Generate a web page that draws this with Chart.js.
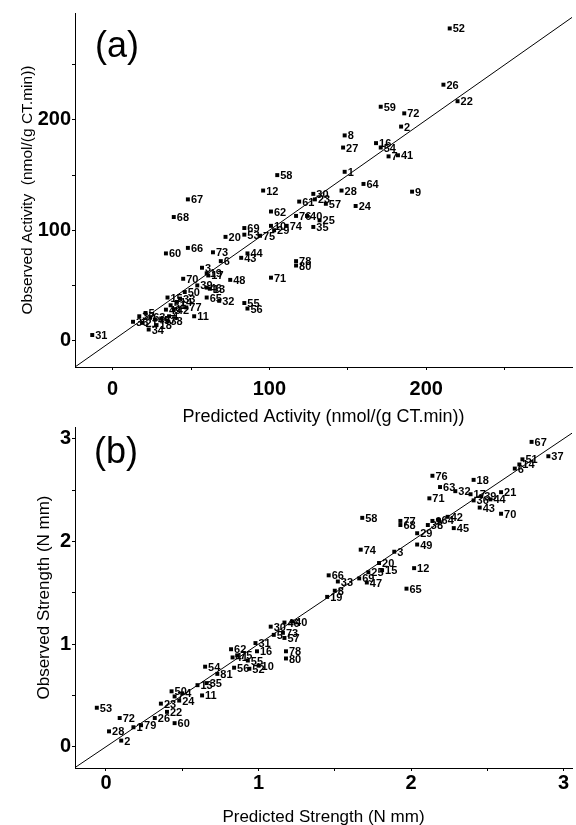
<!DOCTYPE html>
<html>
<head>
<meta charset="utf-8">
<script src="https://cdn.jsdelivr.net/npm/chart.js@4.4.0/dist/chart.umd.min.js"></script>
<style>
  html, body { margin: 0; padding: 0; background: #fff; }
  body { width: 576px; height: 825px; position: relative; overflow: hidden; }
  canvas { position: absolute; left: 0; }
  #chartA { top: 0; }
  #chartB { top: 400px; }
</style>
</head>
<body>
<canvas id="chartA" width="576" height="440"></canvas>
<canvas id="chartB" width="576" height="440"></canvas>
<script>
// ---- panel (a): enzyme activity, nmol/(g CT.min) ----
const activityIds = [1, 2, 3, 4, 5, 6, 7, 8, 9, 10, 11, 12, 13, 14, 15, 16, 17, 18, 19, 20,
  21, 22, 23, 24, 25, 26, 27, 28, 29, 30, 31, 32, 33, 34, 35, 36, 37, 38, 39, 40,
  41, 42, 43, 44, 45, 46, 47, 48, 49, 50, 51, 52, 53, 54, 55, 56, 57, 58, 59, 60,
  61, 62, 63, 64, 65, 66, 67, 68, 69, 70, 71, 72, 73, 74, 75, 76, 77, 78, 80];
const activityPredicted = [148, 184, 57, 36, 21, 69, 176, 148, 191, 101, 52, 96, 62, 41, 35, 168, 61, 28, 60, 72,
  19, 220, 129, 155, 132, 211, 147, 146, 103, 128, -13, 68, 43, 23, 128, 13, 17, 35, 54, 124,
  182, 39, 82, 86, 27, 60, 31, 75, 34, 46, 37, 215, 84, 171, 84, 86, 136, 105, 171, 34,
  119, 101, 24, 160, 60, 48, 48, 39, 84, 45, 101, 186, 64, 111, 94, 117, 47, 117, 117];
const activityObserved = [153, 194, 66, 22, 25, 72, 167, 186, 135, 104, 22, 136, 47, 35, 39, 179, 59, 14, 61, 94,
  16, 217, 128, 122, 109, 232, 175, 136, 100, 133, 5, 36, 38, 10, 103, 17, 22, 18, 50, 113,
  168, 28, 75, 79, 19, 48, 20, 55, 28, 44, 32, 283, 96, 175, 34, 29, 124, 150, 212, 79,
  126, 117, 21, 142, 39, 84, 128, 112, 102, 56, 57, 206, 80, 104, 95, 113, 30, 72, 68];
const activityXTicks = [0, 50, 100, 150, 200, 250];
const activityYTicks = [0, 50, 100, 150, 200, 250];
const activityLabelled = [0, 100, 200];
const activityRange = [-24, 293, -24, 297];   // xmin, xmax, ymin, ymax
const activityLine = [-50, 350];              // y = x reference line

// ---- panel (b): strength, N mm ----
const strengthIds = [1, 2, 3, 4, 5, 6, 7, 8, 9, 10, 11, 12, 13, 14, 15, 16, 17, 18, 19, 20,
  21, 22, 23, 24, 25, 26, 28, 29, 30, 31, 32, 33, 35, 36, 37, 38, 39, 40, 41, 42,
  43, 44, 45, 46, 47, 49, 50, 51, 52, 53, 54, 55, 56, 57, 58, 60, 62, 63, 64, 65,
  66, 67, 68, 69, 70, 71, 72, 73, 74, 75, 76, 77, 78, 79, 80, 81];
const strengthPredicted = [0.18, 0.10, 1.89, 0.50, 1.10, 2.68, 0.45, 1.50, 2.14, 1.00, 0.63, 2.02, 0.60, 2.71, 1.81, 0.99, 2.39, 2.41, 1.45, 1.79,
  2.59, 0.40, 0.36, 0.48, 1.72, 0.32, 0.02, 2.04, 1.08, 0.98, 2.29, 1.52, 0.66, 2.41, 2.90, 2.11, 2.46, 1.22, 0.83, 2.24,
  2.45, 2.52, 2.28, 1.17, 1.71, 2.04, 0.43, 2.73, 0.94, -0.06, 0.65, 0.93, 0.84, 1.17, 1.68, 0.45, 0.82, 2.19, 2.18, 1.97,
  1.46, 2.79, 1.93, 1.66, 2.59, 2.12, 0.09, 1.16, 1.67, 0.86, 2.14, 1.93, 1.18, 0.23, 1.18, 0.73];
const strengthObserved = [0.19, 0.06, 1.90, 0.52, 1.09, 2.71, 0.49, 1.52, 2.20, 0.79, 0.50, 1.74, 0.60, 2.75, 1.72, 0.93, 2.46, 2.60, 1.46, 1.79,
  2.48, 0.34, 0.42, 0.45, 1.70, 0.28, 0.15, 2.08, 1.17, 1.01, 2.49, 1.61, 0.62, 2.40, 2.83, 2.16, 2.44, 1.22, 0.87, 2.24,
  2.33, 2.41, 2.13, 1.21, 1.60, 1.97, 0.54, 2.80, 0.76, 0.38, 0.78, 0.84, 0.77, 1.06, 2.23, 0.23, 0.95, 2.53, 2.21, 1.54,
  1.67, 2.97, 2.16, 1.64, 2.27, 2.42, 0.28, 1.11, 1.92, 0.89, 2.64, 2.20, 0.93, 0.21, 0.86, 0.71];
const strengthXTicks = [0, 0.5, 1, 1.5, 2, 2.5, 3];
const strengthYTicks = [0, 0.5, 1, 1.5, 2, 2.5, 3];
const strengthLabelled = [0, 1, 2, 3];
const strengthRange = [-0.203, 3.055, -0.207, 3.115];
const strengthLine = [-0.5, 3.5];

const FONT = '"Liberation Sans", Arial, sans-serif';

// draws the compound numbers next to each marker, plus the (a)/(b) tag
const pointLabels = {
  id: 'pointLabels',
  afterDatasetsDraw(chart, args, opts) {
    const ctx = chart.ctx;
    const ds = chart.data.datasets[0];
    const meta = chart.getDatasetMeta(0);
    ctx.save();
    ctx.fillStyle = '#000';
    ctx.font = 'bold 11px ' + FONT;
    ctx.textBaseline = 'middle';
    ctx.textAlign = 'left';
    meta.data.forEach((el, i) => {
      ctx.fillText(String(ds.data[i].id), el.x + 3, el.y + 1);
    });
    ctx.font = '36px ' + FONT;
    ctx.fillText(opts.tag, chart.chartArea.left + opts.tagDx, chart.chartArea.top + opts.tagDy);
    ctx.restore();
  }
};

function makeChart(id, cfg) {
  const pts = cfg.pred.map((x, i) => ({ x: x, y: cfg.obs[i], id: cfg.ids[i] }));
  const linePts = cfg.line.map(v => ({ x: v, y: v }));
  const tickFont = { family: FONT, size: 20, weight: 'bold' };
  const showLabel = v => (cfg.labelled.includes(v) ? String(v) : '');

  return new Chart(document.getElementById(id), {
    type: 'scatter',
    data: {
      datasets: [
        {
          data: pts,
          backgroundColor: '#000',
          borderColor: '#000',
          borderWidth: 0,
          pointStyle: 'rect',
          pointRadius: 2.8,
        },
        {
          type: 'line',
          data: linePts,
          borderColor: '#000',
          borderWidth: 1,
          pointRadius: 0,
          fill: false,
        },
      ],
    },
    options: {
      responsive: false,
      animation: false,
      layout: { padding: { top: cfg.top, left: 0, right: 0, bottom: 0 } },
      plugins: {
        legend: { display: false },
        tooltip: { enabled: false },
        pointLabels: { tag: cfg.tag, tagDx: cfg.tagDx, tagDy: cfg.tagDy },
      },
      scales: {
        x: {
          type: 'linear',
          min: cfg.range[0],
          max: cfg.range[1],
          afterBuildTicks: s => { s.ticks = cfg.xTicks.map(v => ({ value: v })); },
          afterFit: s => { s.height = cfg.xAxisHeight; },
          ticks: { callback: showLabel, color: '#000', font: tickFont, padding: cfg.xPad, maxRotation: 0, autoSkip: false },
          grid: { drawOnChartArea: false, tickLength: 3, color: '#000' },
          border: { display: true, color: '#000', width: 1 },
          title: { display: true, text: cfg.xTitle, color: '#000', font: { family: FONT, size: cfg.xTitleSize }, padding: { top: 0, bottom: 12 } },
        },
        y: {
          type: 'linear',
          min: cfg.range[2],
          max: cfg.range[3],
          afterBuildTicks: s => { s.ticks = cfg.yTicks.map(v => ({ value: v })); },
          afterFit: s => { s.width = 75; },
          ticks: { callback: showLabel, color: '#000', font: tickFont, padding: 1, autoSkip: false },
          grid: { drawOnChartArea: false, tickLength: 3, color: '#000' },
          border: { display: true, color: '#000', width: 1 },
          title: { display: true, text: cfg.yTitle, color: '#000', font: { family: FONT, size: cfg.yTitleSize }, padding: { top: cfg.yTitlePad, bottom: 0 } },
        },
      },
    },
    plugins: [pointLabels],
  });
}

makeChart('chartA', {
  ids: activityIds, pred: activityPredicted, obs: activityObserved,
  xTicks: activityXTicks, yTicks: activityYTicks, labelled: activityLabelled,
  range: activityRange, line: activityLine,
  xTitle: 'Predicted Activity (nmol/(g CT.min))', xTitleSize: 18,
  yTitle: 'Observed Activity  (nmol/(g CT.min))', yTitleSize: 15.5,
  tag: '(a)', tagDx: 20, tagDy: 34,
  top: 13, xAxisHeight: 73, xPad: 7, yTitlePad: 18,
});

makeChart('chartB', {
  ids: strengthIds, pred: strengthPredicted, obs: strengthObserved,
  xTicks: strengthXTicks, yTicks: strengthYTicks, labelled: strengthLabelled,
  range: strengthRange, line: strengthLine,
  xTitle: 'Predicted Strength (N mm)', xTitleSize: 17,
  yTitle: 'Observed Strength (N mm)', yTitleSize: 17,
  tag: '(b)', tagDx: 19, tagDy: 26,
  top: 27, xAxisHeight: 72, xPad: 0, yTitlePad: 34,
});
</script>
</body>
</html>
